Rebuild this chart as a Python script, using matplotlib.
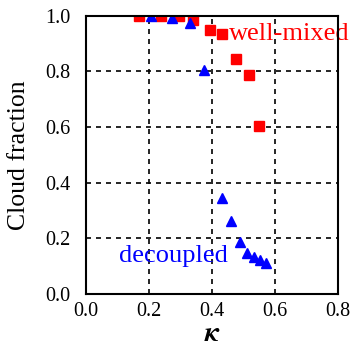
import matplotlib
matplotlib.use('Agg')
import matplotlib.pyplot as plt

plt.rcParams['font.family'] = ['Liberation Serif', 'DejaVu Serif']
plt.rcParams['mathtext.fontset'] = 'stix'

# well-mixed cases (red squares)
kappa_wm = [0.169, 0.237, 0.295, 0.341, 0.395, 0.433, 0.477, 0.518, 0.550]
cf_wm = [1.0, 1.0, 0.997, 0.984, 0.949, 0.935, 0.844, 0.786, 0.603]

# decoupled cases (blue triangles)
kappa_dc = [0.206, 0.272, 0.330, 0.376, 0.431, 0.459, 0.489, 0.512, 0.534, 0.552, 0.571]
cf_dc = [1.0, 0.99, 0.972, 0.804, 0.344, 0.262, 0.187, 0.146, 0.132, 0.122, 0.110]

fig = plt.figure(figsize=(3.54, 3.48), dpi=100)
ax = fig.add_axes([0.243, 0.155, 0.712, 0.80])

ax.plot(kappa_wm, cf_wm, 's', color='#ff0000', markersize=6.6, zorder=2)
ax.plot(kappa_dc, cf_dc, '^', color='#0000ff', markersize=6.8, zorder=2.1)

ax.text(0.453, 0.935, 'well-mixed', color='#ff0000', fontsize=19,
        va='center', ha='left', clip_on=False)
ax.text(0.105, 0.135, 'decoupled', color='#0000ff', fontsize=19,
        va='center', ha='left')

ax.set_xlim(0, 0.8)
ax.set_ylim(0, 1.0)
ax.set_xticks([0, 0.2, 0.4, 0.6, 0.8])
ax.set_yticks([0, 0.2, 0.4, 0.6, 0.8, 1.0])
ax.xaxis.set_major_formatter(matplotlib.ticker.FormatStrFormatter('%.1f'))
ax.yaxis.set_major_formatter(matplotlib.ticker.FormatStrFormatter('%.1f'))
ax.tick_params(length=0, labelsize=14.5)
ax.tick_params(axis='y', pad=11)
ax.tick_params(axis='x', pad=6)
ax.grid(True, color='black', linestyle=(0, (3, 3)), linewidth=1.2)
for s in ax.spines.values():
    s.set_linewidth(1.5)
    s.set_zorder(3)

# x label placed by hand so it sits right at the bottom edge
fig.text(0.599, 0.004, r'$\boldsymbol{\kappa}$', fontsize=20.5,
         ha='center', va='bottom')
ax.set_ylabel('Cloud fraction', fontsize=18.5, labelpad=11)

fig.savefig('out.png', dpi=100)
